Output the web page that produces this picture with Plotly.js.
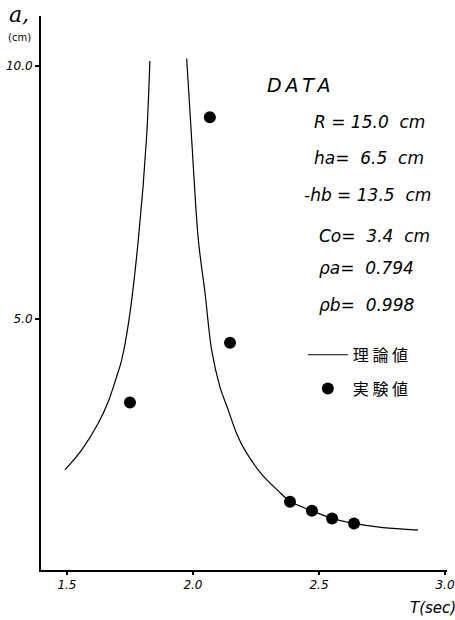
<!DOCTYPE html>
<html>
<head>
<meta charset="utf-8">
<script src="https://cdn.plot.ly/plotly-3.0.1.min.js"></script>
<style>html,body{margin:0;padding:0;background:#fff;}#chart{width:455px;height:620px;}</style>
</head>
<body>
<div id="chart"></div>
<script>
// Theoretical curve (two branches around resonance), T in sec, a in cm
const curveT = [1.492, 1.558, 1.624, 1.664, 1.697, 1.717, 1.746, 1.783, 1.816, 1.829, null,
                1.975, 1.995, 2.021, 2.048, 2.074, 2.107, 2.140, 2.173, 2.206, 2.273, 2.339, 2.385,
                2.472, 2.552, 2.639, 2.754, 2.893];
const curveA = [2.02, 2.41, 2.94, 3.37, 3.86, 4.19, 4.98, 6.56, 8.60, 10.10, null,
                10.15, 8.54, 6.58, 5.51, 4.39, 3.66, 3.20, 2.74, 2.41, 1.93, 1.60, 1.40,
                1.21, 1.06, 0.96, 0.876, 0.83];
// Experimental values
const expT = [1.75, 2.067, 2.147, 2.385, 2.472, 2.552, 2.639];
const expA = [3.35, 8.99, 4.53, 1.39, 1.21, 1.06, 0.96];
// Tick labels
const xTicks = [1.5, 2.0, 2.5, 3.0];
const xTickText = ['1.5', '2.0', '2.5', '3.0'];
const yTicks = [5.0, 10.0];
const yTickText = ['5.0', '10.0'];
const seriesNames = ['理 論 値', '実 験 値'];
const dataLines = ['D\u2009A\u2009T\u2009A', 'R = 15.0  cm', 'ha=  6.5  cm', '-hb = 13.5  cm',
                   'Co=  3.4  cm', 'ρa=  0.794', 'ρb=  0.998'];

const hand = 'DejaVu Sans, sans-serif';
const traces = [
  {x: curveT, y: curveA, mode: 'lines', name: seriesNames[0], legendgroup: 'a',
   line: {color: '#000', width: 1.2, shape: 'spline', smoothing: 0.9}, connectgaps: false},
  {x: expT, y: expA, mode: 'markers', name: seriesNames[1], legendgroup: 'b',
   marker: {color: '#000', size: 12}}
];

// text block positions (data coords)
const txtX = [2.286, 2.472, 2.472, 2.433, 2.492, 2.492, 2.492];
const txtY = [9.62, 8.89, 8.18, 7.45, 6.64, 6.01, 5.28];
const txtSize = [19, 17, 17, 17, 17, 17, 17];

const annotations = dataLines.map((t, i) => ({
  x: txtX[i], y: txtY[i], xref: 'x', yref: 'y', text: '<i>' + t + '</i>', showarrow: false,
  xanchor: 'left', yanchor: 'middle', font: {family: hand, size: txtSize[i], color: '#000'}
}));
annotations.push(
  {xref: 'paper', yref: 'paper', x: -0.084, y: 1.003, text: '<i>a,</i>', showarrow: false,
   xanchor: 'left', yanchor: 'middle', font: {family: 'DejaVu Serif, serif', size: 22, color: '#000'}},
  {xref: 'paper', yref: 'paper', x: -0.087, y: 0.961, text: '(cm)', showarrow: false,
   xanchor: 'left', yanchor: 'middle', font: {family: hand, size: 10, color: '#000'}},
  {xref: 'paper', yref: 'paper', x: 0.904, y: -0.068, text: '<i>T(sec)</i>', showarrow: false,
   xanchor: 'left', yanchor: 'middle', font: {family: hand, size: 15, color: '#000'}}
);

const layout = {
  width: 455, height: 620,
  margin: {l: 41, r: 8, t: 16, b: 50},
  paper_bgcolor: '#fff', plot_bgcolor: '#fff',
  showlegend: true,
  legend: {x: 0.645, y: 0.419, xanchor: 'left', yanchor: 'top', bgcolor: 'rgba(0,0,0,0)',
           traceorder: 'grouped', tracegroupgap: 10, itemwidth: 40,
           font: {family: 'Noto Sans CJK JP, sans-serif', size: 16, color: '#000'}},
  xaxis: {range: [1.397, 3.008], showgrid: false, zeroline: false, showline: true,
          linecolor: '#000', linewidth: 2, ticks: 'outside', ticklen: 3, tickwidth: 1.5, tickcolor: '#000',
          tickvals: xTicks, ticktext: xTickText.map(t => '<i>' + t + '</i>'),
          tickfont: {family: hand, size: 12, color: '#000'}},
  yaxis: {range: [0.04, 10.99], showgrid: false, zeroline: false, showline: true,
          linecolor: '#000', linewidth: 2, ticks: 'outside', ticklen: 4, tickwidth: 1.5, tickcolor: '#000',
          tickvals: yTicks, ticktext: yTickText.map(t => '<i>' + t + '</i>'),
          tickfont: {family: hand, size: 12, color: '#000'}},
  annotations: annotations
};

Plotly.newPlot('chart', traces, layout, {staticPlot: true});
</script>
</body>
</html>
